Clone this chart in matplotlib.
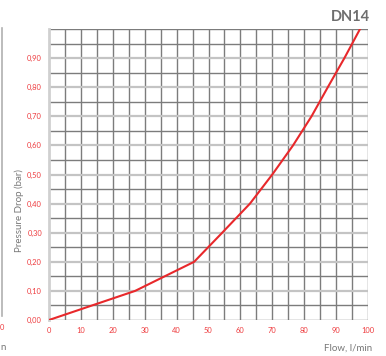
import matplotlib
matplotlib.use("Agg")
import matplotlib.pyplot as plt
from matplotlib.lines import Line2D
import numpy as np

plt.rcParams['font.family'] = ['Lato', 'DejaVu Sans']

# curve
flow = [0, 27, 45.5, 54.3, 63, 70, 76.5, 82.3, 87.4, 92.6, 97.5]
pressure = [0.0, 0.10, 0.20, 0.30, 0.40, 0.50, 0.60, 0.70, 0.80, 0.90, 1.00]

x_ticks = [0, 10, 20, 30, 40, 50, 60, 70, 80, 90, 100]
y_ticks = [0.0, 0.1, 0.2, 0.3, 0.4, 0.5, 0.6, 0.7, 0.8, 0.9]
y_labels = ["0,00", "0,10", "0,20", "0,30", "0,40", "0,50", "0,60", "0,70", "0,80", "0,90"]

RED = "#e8282b"
TICK_RED = "#ee3b3e"
GREY = "#777777"

fig = plt.figure(figsize=(3.86, 3.56), dpi=100)
ax = fig.add_axes([49 / 386, 36 / 356, 319 / 386, 291 / 356])

ax.set_xlim(0, 100)
ax.set_ylim(0, 1.0)

# grid
for xv in np.arange(5, 101, 5):
    ax.axvline(xv, color="#7c7c7c", lw=1.0, zorder=1)
for yv in np.arange(0.05, 1.001, 0.05):
    if abs(round(yv * 10) - yv * 10) < 1e-6 and yv < 0.99:
        ax.axhline(yv, color="#c4c4c4", lw=1.6, zorder=1)
    else:
        ax.axhline(yv, color="#7c7c7c", lw=1.0, zorder=1)

ax.plot(flow, pressure, color=RED, lw=1.5, zorder=3, solid_joinstyle="miter")

for side in ["top", "right", "bottom"]:
    ax.spines[side].set_visible(False)
ax.spines["left"].set_color("#d0d0d0")
ax.spines["left"].set_linewidth(2.0)
ax.axhline(0, color="#7c7c7c", lw=1.0, zorder=1)

ax.set_xticks(x_ticks)
ax.set_xticklabels([str(v) for v in x_ticks])
ax.set_yticks(y_ticks)
ax.set_yticklabels(y_labels)
ax.tick_params(length=0, labelsize=5.4, labelcolor=TICK_RED)
ax.tick_params(axis="y", pad=5)
ax.tick_params(axis="x", pad=5)

fig.text(19 / 386, 1 - 211 / 356, "Pressure Drop (bar)", color=GREY, fontsize=7,
         rotation=90, ha="center", va="center")
fig.text(372 / 386, 1 - 348 / 356, "Flow, l/min", color=GREY, fontsize=7,
         ha="right", va="center")
fig.text(370 / 386, 1 - 17 / 356, "DN14", color="#6e6e6e", fontsize=10.5,
         fontweight="bold", ha="right", va="center")

# fragments of the neighbouring chart on the left edge
fig.add_artist(Line2D([1.5 / 386, 1.5 / 386], [1 - 28 / 356, 1 - 316 / 356],
                      color="#b0b0b0", lw=1.2))
fig.text(0, 1 - 328 / 356, "0", color=TICK_RED, fontsize=5.4, ha="left", va="center")
fig.text(0, 1 - 348 / 356, "n", color=GREY, fontsize=7, ha="left", va="center")

fig.savefig("out.png", dpi=100)
